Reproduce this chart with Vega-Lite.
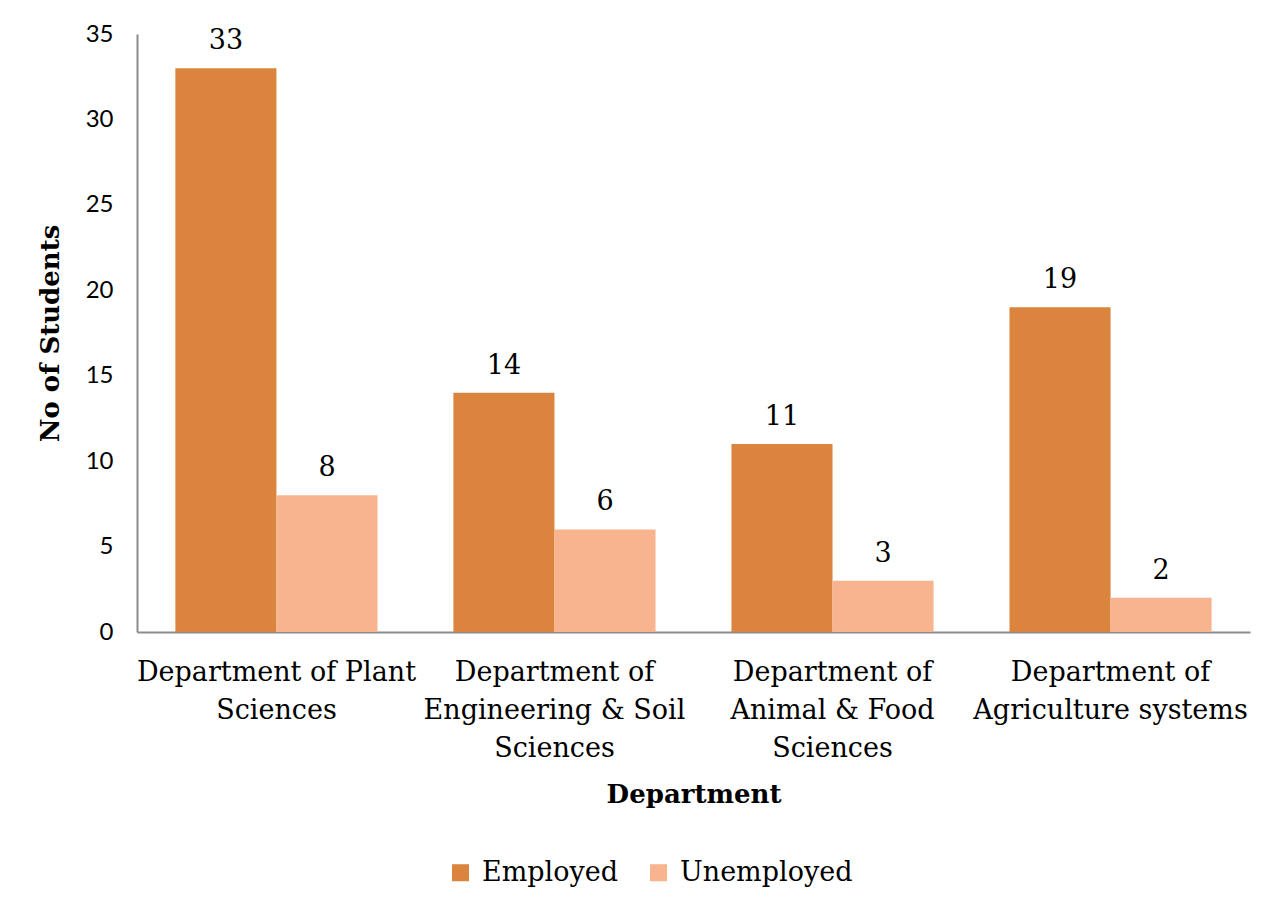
{
  "$schema": "https://vega.github.io/schema/vega-lite/v6.json",
  "width": 1113,
  "height": 598,
  "autosize": {"type": "none"},
  "padding": {"left": 137, "top": 34, "right": 31, "bottom": 279},
  "background": "white",
  "data": {
    "values": [
      {"department": "Department of Plant Sciences", "status": "Employed", "students": 33},
      {"department": "Department of Plant Sciences", "status": "Unemployed", "students": 8},
      {"department": "Department of Engineering & Soil Sciences", "status": "Employed", "students": 14},
      {"department": "Department of Engineering & Soil Sciences", "status": "Unemployed", "students": 6},
      {"department": "Department of Animal & Food Sciences", "status": "Employed", "students": 11},
      {"department": "Department of Animal & Food Sciences", "status": "Unemployed", "students": 3},
      {"department": "Department of Agriculture systems", "status": "Employed", "students": 19},
      {"department": "Department of Agriculture systems", "status": "Unemployed", "students": 2}
    ]
  },
  "encoding": {
    "x": {
      "field": "department",
      "type": "nominal",
      "sort": null,
      "scale": {"paddingInner": 0.273, "paddingOuter": 0.138},
      "axis": {
        "title": "Department",
        "titleFont": "DejaVu Serif",
        "titleFontSize": 26,
        "titleFontWeight": "bold",
        "titleColor": "black",
        "titlePadding": 20,
        "labelFont": "DejaVu Serif",
        "labelFontSize": 27,
        "labelColor": "black",
        "labelAngle": 0,
        "labelLineHeight": 38,
        "labelPadding": 27,
        "labelLimit": 400,
        "ticks": false,
        "domainColor": "#8c8c8c",
        "domainWidth": 2,
        "labelExpr": "datum.value == 'Department of Plant Sciences' ? ['Department of Plant', 'Sciences'] : datum.value == 'Department of Engineering & Soil Sciences' ? ['Department of', 'Engineering & Soil', 'Sciences'] : datum.value == 'Department of Animal & Food Sciences' ? ['Department of', 'Animal & Food', 'Sciences'] : ['Department of', 'Agriculture systems']"
      }
    },
    "xOffset": {"field": "status", "type": "nominal", "scale": {"paddingInner": 0, "paddingOuter": 0}},
    "y": {
      "field": "students",
      "type": "quantitative",
      "scale": {"domain": [0, 35], "nice": false},
      "axis": {
        "title": "No of Students",
        "titleFont": "DejaVu Serif",
        "titleFontSize": 26,
        "titleFontWeight": "bold",
        "titleColor": "black",
        "titlePadding": 22,
        "values": [0, 5, 10, 15, 20, 25, 30, 35],
        "grid": false,
        "ticks": false,
        "labelFont": "Lato",
        "labelFontSize": 24,
        "labelColor": "black",
        "labelPadding": 24,
        "domainColor": "#8c8c8c",
        "domainWidth": 2
      }
    },
    "color": {
      "field": "status",
      "type": "nominal",
      "scale": {"domain": ["Employed", "Unemployed"], "range": ["#DB843D", "#F8B48F"]},
      "legend": {
        "title": null,
        "orient": "none",
        "direction": "horizontal",
        "legendX": 310,
        "legendY": 825,
        "symbolType": "square",
        "symbolSize": 290,
        "symbolStrokeWidth": 0,
        "labelFont": "DejaVu Serif",
        "labelFontSize": 27,
        "labelLimit": 300,
        "labelColor": "black",
        "columnPadding": 26,
        "labelOffset": 8
      }
    }
  },
  "layer": [
    {"mark": {"type": "bar"}},
    {
      "mark": {"type": "text", "baseline": "bottom", "dy": -13, "font": "DejaVu Serif", "fontSize": 27},
      "encoding": {"text": {"field": "students", "type": "quantitative"}, "color": {"value": "black"}}
    }
  ],
  "config": {"view": {"stroke": null}}
}
